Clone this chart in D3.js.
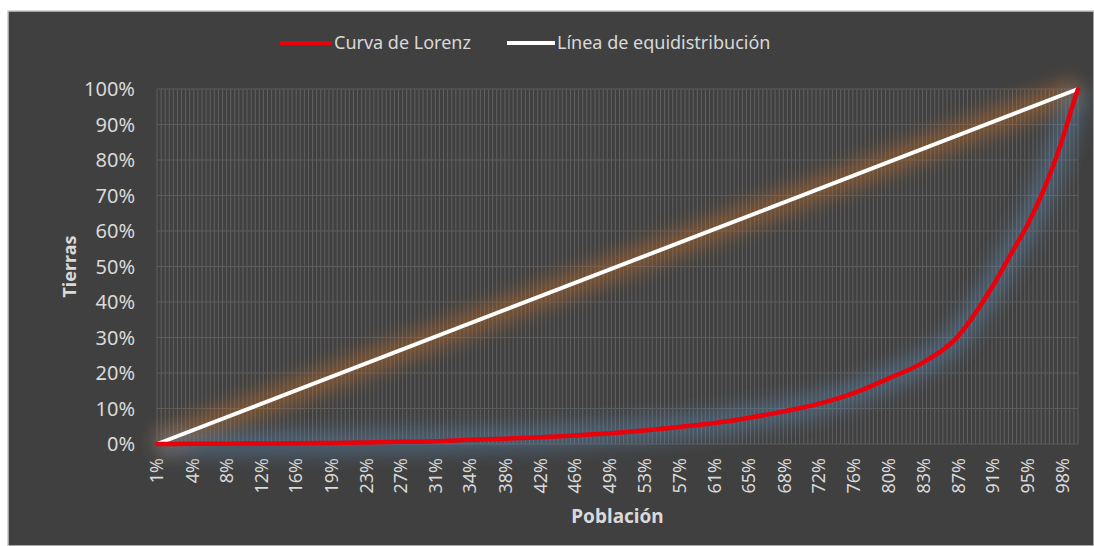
<!DOCTYPE html>
<html>
<head>
<meta charset="utf-8">
<script src="https://cdn.jsdelivr.net/npm/d3@7"></script>
<style>
  body { margin: 0; background: #fff; }
  text { font-family: "Noto Sans", "Open Sans", sans-serif; fill: #d9d9d9; }
</style>
</head>
<body>
<div id="chart"></div>
<script>
// Datos (porcentajes)
const poblacion = [0.6, 4.4, 8.1, 11.9, 15.6, 19.4, 23.2, 26.9, 30.7, 34.4, 38.2, 42.0, 45.7, 49.5, 53.2, 57.0, 60.8, 64.5, 68.3, 72.0, 75.8, 79.6, 83.3, 87.1, 89.4, 90.8, 93.0, 94.6, 96.6, 98.4, 99.2, 100];
const curvaLorenz = [0, 0.05, 0.1, 0.15, 0.2, 0.3, 0.45, 0.6, 0.8, 1.2, 1.5, 1.9, 2.4, 3.0, 3.8, 4.8, 5.9, 7.4, 9.2, 11.3, 14.3, 18.5, 23.0, 30.5, 38.7, 44.5, 54.6, 62.0, 73.5, 86.5, 93.5, 100];
const equiPoblacion = [0.6, 100];
const equiTierras = [0, 100];

const etiquetasX = ["1%", "4%", "8%", "12%", "16%", "19%", "23%", "27%", "31%", "34%", "38%", "42%", "46%", "49%", "53%", "57%", "61%", "65%", "68%", "72%", "76%", "80%", "83%", "87%", "91%", "95%", "98%"];
const posEtiquetasX = [0.6, 4.4, 8.1, 11.9, 15.6, 19.4, 23.2, 26.9, 30.7, 34.4, 38.2, 42.0, 45.7, 49.5, 53.2, 57.0, 60.8, 64.5, 68.3, 72.0, 75.8, 79.6, 83.3, 87.1, 90.8, 94.6, 98.4];
const nCategorias = 226;

const width = 1094, height = 546;
const plot = { left: 157, right: 1078, top: 89, bottom: 444 };

const svg = d3.select("#chart").append("svg")
  .attr("width", width)
  .attr("height", height);

const defs = svg.append("defs");
defs.append("filter").attr("id", "glow")
  .attr("x", "-20%").attr("y", "-50%").attr("width", "140%").attr("height", "200%")
  .append("feGaussianBlur").attr("stdDeviation", 9);

// fondo del gráfico
svg.append("rect")
  .attr("x", 8).attr("y", 11)
  .attr("width", width - 8).attr("height", height - 11)
  .attr("fill", "#404040")
  .attr("stroke", "#c8c8c8")
  .attr("stroke-width", 1.5);

const x = d3.scaleLinear().domain([0.6, 100]).range([plot.left, plot.right]);
const y = d3.scaleLinear().domain([0, 100]).range([plot.bottom, plot.top]);
const xCat = d3.scaleLinear().domain([0, nCategorias - 1]).range([plot.left, plot.right]);

// rejilla vertical
svg.append("g")
  .selectAll("line")
  .data(d3.range(nCategorias))
  .enter().append("line")
  .attr("x1", d => xCat(d)).attr("x2", d => xCat(d))
  .attr("y1", plot.top).attr("y2", plot.bottom)
  .attr("stroke", "#616161")
  .attr("stroke-width", 1);

// rejilla horizontal
svg.append("g")
  .selectAll("line")
  .data(y.ticks(10))
  .enter().append("line")
  .attr("x1", plot.left).attr("x2", plot.right)
  .attr("y1", d => y(d)).attr("y2", d => y(d))
  .attr("stroke", "#5c5c5c")
  .attr("stroke-width", 1);

// etiquetas eje Y
svg.append("g")
  .selectAll("text")
  .data(y.ticks(10))
  .enter().append("text")
  .attr("x", 135)
  .attr("y", d => y(d))
  .attr("dy", "0.35em")
  .attr("text-anchor", "end")
  .style("font-size", "20px")
  .text(d => d + "%");

// etiquetas eje X
svg.append("g")
  .selectAll("text")
  .data(posEtiquetasX)
  .enter().append("text")
  .attr("transform", d => `translate(${x(d)}, 458) rotate(-90)`)
  .attr("dy", "0.35em")
  .attr("text-anchor", "end")
  .style("font-size", "18px")
  .text((d, i) => etiquetasX[i]);

// títulos de ejes
svg.append("text")
  .attr("transform", `translate(70, ${(plot.top + plot.bottom) / 2}) rotate(-90)`)
  .attr("dy", "0.35em")
  .attr("text-anchor", "middle")
  .style("font-size", "18px")
  .style("font-weight", "bold")
  .text("Tierras");

svg.append("text")
  .attr("x", (plot.left + plot.right) / 2)
  .attr("y", 516)
  .attr("dy", "0.35em")
  .attr("text-anchor", "middle")
  .style("font-size", "19px")
  .style("font-weight", "bold")
  .text("Población");

const line = d3.line()
  .x(d => x(d[0]))
  .y(d => y(d[1]))
  .curve(d3.curveMonotoneX);

const lorenz = poblacion.map((p, i) => [p, curvaLorenz[i]]);
const equi = equiPoblacion.map((p, i) => [p, equiTierras[i]]);

// brillos
svg.append("path").datum(equi)
  .attr("d", line).attr("fill", "none")
  .attr("stroke", "#b8692c").attr("stroke-opacity", 0.5)
  .attr("stroke-width", 24).attr("filter", "url(#glow)");
svg.append("path").datum(lorenz)
  .attr("d", line).attr("fill", "none")
  .attr("stroke", "#5a86b0").attr("stroke-opacity", 0.45)
  .attr("stroke-width", 24).attr("filter", "url(#glow)");

svg.append("path").datum(equi)
  .attr("d", line).attr("fill", "none")
  .attr("stroke", "#ffffff").attr("stroke-width", 4)
  .attr("stroke-linecap", "round");
svg.append("path").datum(lorenz)
  .attr("d", line).attr("fill", "none")
  .attr("stroke", "#e8000b").attr("stroke-width", 4.5)
  .attr("stroke-linecap", "round");

// leyenda
const legend = [
  { label: "Curva de Lorenz", color: "#e8000b", x1: 280, x2: 332 },
  { label: "Línea de equidistribución", color: "#ffffff", x1: 507, x2: 555 }
];
const lg = svg.append("g");
legend.forEach(l => {
  lg.append("line")
    .attr("x1", l.x1).attr("x2", l.x2)
    .attr("y1", 43).attr("y2", 43)
    .attr("stroke", l.color).attr("stroke-width", 4);
  lg.append("text")
    .attr("x", l.x2 + 2).attr("y", 43)
    .attr("dy", "0.35em")
    .style("font-size", "18px")
    .text(l.label);
});
</script>
</body>
</html>
